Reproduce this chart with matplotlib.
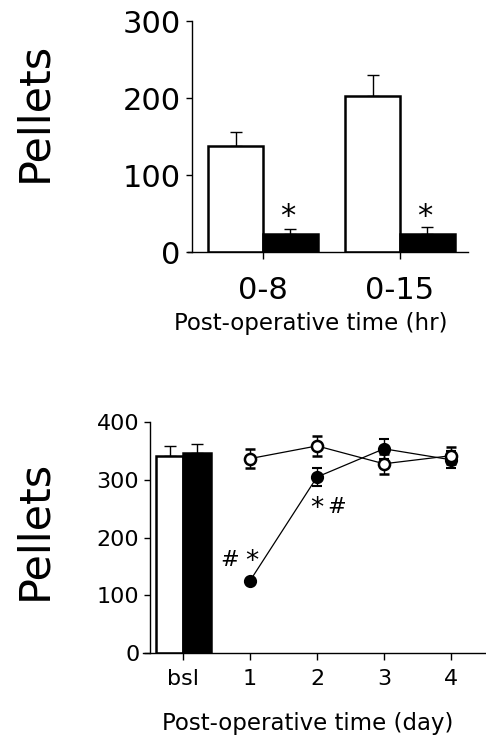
import numpy as np
import matplotlib.pyplot as plt

plt.rcParams['font.family'] = 'DejaVu Sans'

# top panel: pellets eaten in the first hours after surgery
hr_groups = ['0-8', '0-15']
hr_white = [138, 202]
hr_white_err = [18, 28]
hr_black = [23, 24]
hr_black_err = [7, 9]

# bottom panel: baseline bars and daily intake
bsl_white, bsl_white_err = 342, 17
bsl_black, bsl_black_err = 347, 16
days = [1, 2, 3, 4]
day_open = [337, 359, 328, 342]
day_open_err = [16, 18, 17, 15]
day_filled = [125, 305, 354, 335]
day_filled_err = [0, 15, 17, 15]
day_ticks = ['bsl', '1', '2', '3', '4']

W, H = 486, 736
fig = plt.figure(figsize=(W / 100, H / 100), dpi=100)


def box(l, t, r, b):
    return [l / W, 1 - b / H, (r - l) / W, (b - t) / H]


def style(ax, size):
    for s in ['top', 'right']:
        ax.spines[s].set_visible(False)
    for s in ['left', 'bottom']:
        ax.spines[s].set_linewidth(1.0)
    ax.tick_params(direction='out', width=1.0, labelsize=size, pad=4)
    ax.tick_params(axis='y', length=4)
    ax.tick_params(axis='x', length=5)


# ---- top panel ----
ax1 = fig.add_axes(box(188, 21, 468, 252))
x = np.arange(len(hr_groups))
w = 0.4
ax1.bar(x - w / 2, hr_white, w, color='white', edgecolor='black', linewidth=1.8, zorder=2)
ax1.errorbar(x - w / 2, hr_white, yerr=[np.zeros(2), hr_white_err], fmt='none',
             ecolor='black', elinewidth=1, capsize=4, capthick=1, zorder=1)
ax1.bar(x + w / 2, hr_black, w, color='black', edgecolor='black', linewidth=1.8, zorder=2)
ax1.errorbar(x + w / 2, hr_black, yerr=[np.zeros(2), hr_black_err], fmt='none',
             ecolor='black', elinewidth=1, capsize=4, capthick=1, zorder=1)
for xi in x:
    ax1.text(xi + 0.18, 46, '*', fontsize=22, ha='center', va='center')
ax1.set_xlim(-0.547, 1.496)
ax1.set_ylim(0, 300)
ax1.set_yticks([0, 100, 200, 300])
ax1.set_xticks(x)
ax1.set_xticklabels(hr_groups)
style(ax1, 22)
ax1.tick_params(axis='x', pad=12)
ax1.spines['left'].set_position(('data', -0.518))
ax1.set_xlabel('Post-operative time (hr)', fontsize=16.5)
ax1.xaxis.set_label_coords((311 - 188) / 280, -(312 - 252) / 231, transform=ax1.transAxes)
fig.text(34 / W, 1 - 112 / H, 'Pellets', rotation=90, fontsize=31, ha='center', va='center')

# ---- bottom panel ----
ax2 = fig.add_axes(box(143, 422.3, 485, 652.7))
ax2.bar(-0.2, bsl_white, 0.4, color='white', edgecolor='black', linewidth=1.8, zorder=2)
ax2.errorbar(-0.2, bsl_white, yerr=[[0], [bsl_white_err]], fmt='none',
             ecolor='black', elinewidth=1, capsize=4, capthick=1, zorder=1)
ax2.bar(0.21, bsl_black, 0.42, color='black', edgecolor='black', linewidth=1.8, zorder=2)
ax2.errorbar(0.21, bsl_black, yerr=[[0], [bsl_black_err]], fmt='none',
             ecolor='black', elinewidth=1, capsize=4, capthick=1, zorder=1)

ax2.errorbar(days, day_filled, yerr=day_filled_err, color='black', lw=0.9,
             marker='o', ms=8, mfc='black', mec='black', mew=1.5,
             elinewidth=1, capsize=3.5, capthick=1, zorder=3)
ax2.errorbar(days, day_open, yerr=day_open_err, color='black', lw=0.9,
             marker='o', ms=8, mfc='white', mec='black', mew=1.8,
             elinewidth=1, capsize=3.5, capthick=1, zorder=4)

ax2.text(0.70, 161, '#', fontsize=16, ha='center', va='center')
ax2.text(1.02, 158, '*', fontsize=19, ha='center', va='center')
ax2.text(1.99, 250, '*', fontsize=19, ha='center', va='center')
ax2.text(2.29, 253, '#', fontsize=16, ha='center', va='center')

ax2.set_xlim(-0.6, 4.51)
ax2.set_ylim(0, 400)
ax2.set_yticks([0, 100, 200, 300, 400])
ax2.set_xticks(range(len(day_ticks)))
ax2.set_xticklabels(day_ticks)
style(ax2, 16)
ax2.tick_params(axis='x', pad=7)
ax2.spines['left'].set_position(('data', -0.49))
ax2.set_xlabel('Post-operative time (day)', fontsize=16.5)
ax2.xaxis.set_label_coords((308 - 143) / 342, -(712 - 652.7) / 230.4, transform=ax2.transAxes)
fig.text(34 / W, 1 - 530 / H, 'Pellets', rotation=90, fontsize=31, ha='center', va='center')

fig.savefig('out.png', dpi=100)
